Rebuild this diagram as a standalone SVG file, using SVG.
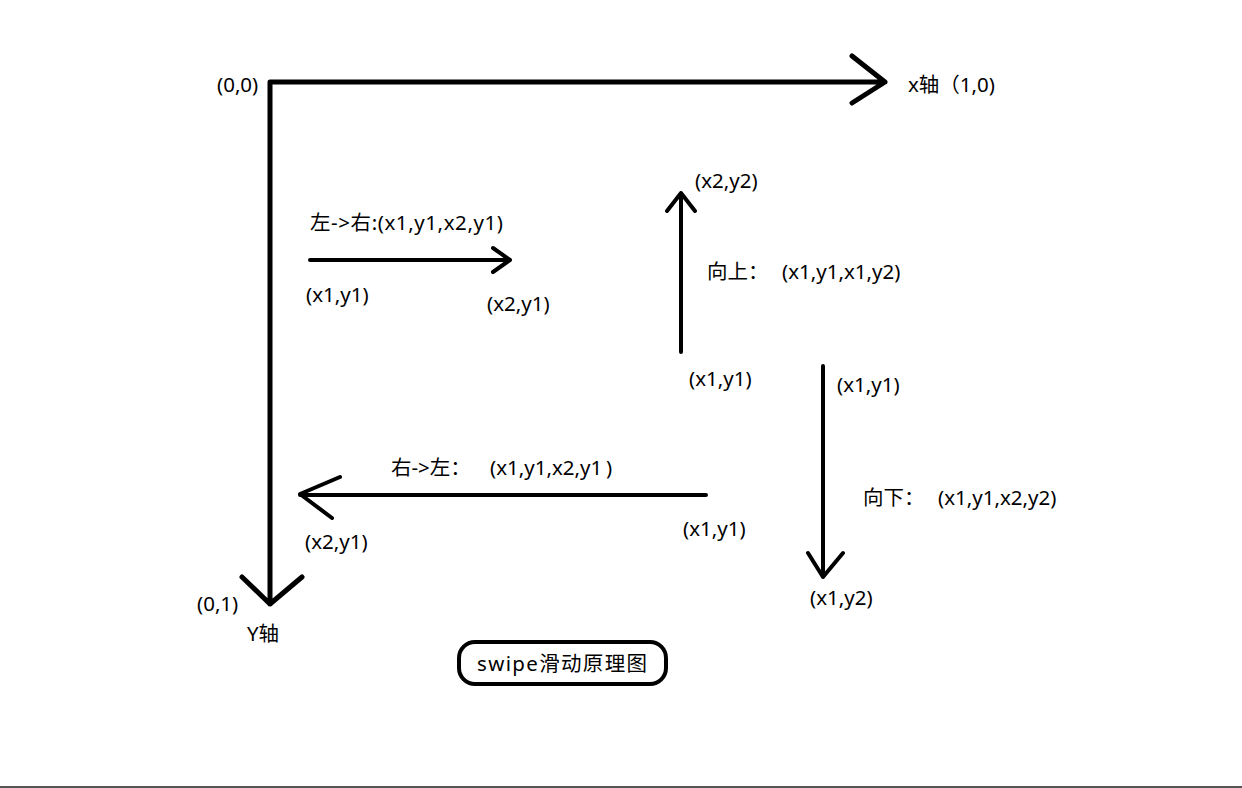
<svg xmlns="http://www.w3.org/2000/svg" width="1242" height="788" viewBox="0 0 1242 788">
<style>
.t{font-family:"Noto Sans","Noto Sans CJK SC",sans-serif;font-size:20.5px;fill:#000}
.a{fill:none;stroke:#000;stroke-width:5;stroke-linecap:round;stroke-linejoin:round}
.s{fill:none;stroke:#000;stroke-width:4;stroke-linecap:round;stroke-linejoin:round}
</style>
<rect width="1242" height="788" fill="#fff"/>
<g id="connectors">
<path id="x-axis" class="a" d="M270,82 H885 M852,56 L885,82 L852,103"/>
<path id="y-axis" class="a" d="M270,84 V604 M242,577 L270,604 L302,577"/>
<path id="left-right" class="s" d="M310,260 H510 M493,248 L510,260 L493,272"/>
<path id="up" class="s" d="M681,352 V193 M667,211 L681,193 L695,211"/>
<path id="down" class="s" d="M823,366 V577 M808,553 L823,577 L843,553"/>
<path id="right-left" class="s" d="M706,495 H300 M340,477 L300,494 L332,518"/>
</g>
<g id="origin"><text class="t" x="217" y="92">(0,0)</text></g>
<g id="x-label"><text class="t" x="908" y="92">x轴（1,0)</text></g>
<g id="y-label"><text class="t" x="197" y="611">(0,1)</text><text class="t" x="247" y="641">Y轴</text></g>
<g id="lr-labels">
<text class="t" x="310" y="230" textLength="193" lengthAdjust="spacing">左-&gt;右:(x1,y1,x2,y1)</text>
<text class="t" x="306" y="302">(x1,y1)</text>
<text class="t" x="487" y="311">(x2,y1)</text>
</g>
<g id="up-labels">
<text class="t" x="695" y="188">(x2,y2)</text>
<text class="t" x="707" y="279">向上：<tspan x="782">(x1,y1,x1,y2)</tspan></text>
<text class="t" x="689" y="386">(x1,y1)</text>
</g>
<g id="down-labels">
<text class="t" x="837" y="392">(x1,y1)</text>
<text class="t" x="863" y="505">向下：<tspan x="938">(x1,y1,x2,y2)</tspan></text>
<text class="t" x="810" y="605">(x1,y2)</text>
</g>
<g id="rl-labels">
<text class="t" x="391" y="475">右-&gt;左：<tspan x="490">(x1,y1,x2,y1</tspan><tspan x="606">)</tspan></text>
<text class="t" x="683" y="536">(x1,y1)</text>
<text class="t" x="305" y="549">(x2,y1)</text>
</g>
<g id="title">
<rect x="459" y="642" width="207" height="42" rx="16" ry="16" fill="none" stroke="#000" stroke-width="4"/>
<text class="t" x="477" y="671" textLength="170" lengthAdjust="spacing">swipe滑动原理图</text>
</g>
<rect x="0" y="786" width="1242" height="2" fill="#555"/>
</svg>
